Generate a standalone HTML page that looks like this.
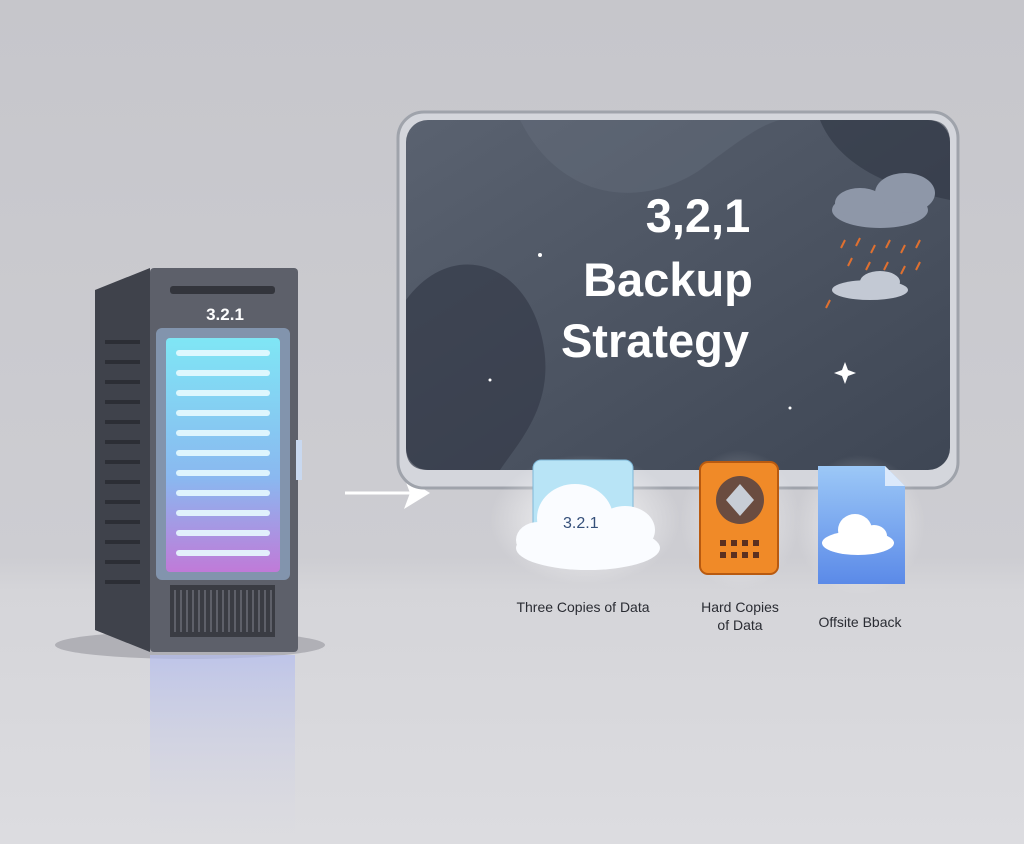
<!DOCTYPE html>
<html><head><meta charset="utf-8"><style>
html,body{margin:0;padding:0;}
body{width:1024px;height:844px;overflow:hidden;background:#c8c8cd;font-family:"Liberation Sans",sans-serif;position:relative;}
</style></head><body>
<svg width="1024" height="844" viewBox="0 0 1024 844" style="position:absolute;left:0;top:0">
<defs>
<linearGradient id="floor" x1="0" y1="0" x2="0" y2="1"><stop offset="0" stop-color="#c6c6cb"/><stop offset="0.66" stop-color="#cdcdd2"/><stop offset="0.7" stop-color="#d5d5d9"/><stop offset="1" stop-color="#dcdce0"/></linearGradient>
<linearGradient id="glow" x1="0" y1="0" x2="0" y2="1"><stop offset="0" stop-color="#7fe6f5"/><stop offset="0.6" stop-color="#8ab8f0"/><stop offset="1" stop-color="#c07ad8"/></linearGradient>
<linearGradient id="scr" x1="0" y1="0" x2="1" y2="1"><stop offset="0" stop-color="#5a6270"/><stop offset="1" stop-color="#3e4654"/></linearGradient>
<linearGradient id="refl" x1="0" y1="0" x2="0" y2="1"><stop offset="0" stop-color="#b4bdee" stop-opacity="0.7"/><stop offset="1" stop-color="#d8d8e4" stop-opacity="0"/></linearGradient>
<radialGradient id="halo"><stop offset="0" stop-color="#ffffff" stop-opacity="0.9"/><stop offset="1" stop-color="#ffffff" stop-opacity="0"/></radialGradient>
<linearGradient id="doc" x1="0" y1="0" x2="0" y2="1"><stop offset="0" stop-color="#9cc8f7"/><stop offset="1" stop-color="#5b8ae8"/></linearGradient>
</defs>
<rect width="1024" height="844" fill="url(#floor)"/>
<ellipse cx="190" cy="645" rx="135" ry="14" fill="#b0b0b6"/>
<rect x="150" y="655" width="145" height="189" fill="url(#refl)"/>
<polygon points="95,290 150,268 150,652 95,630" fill="#3f424b"/>
<g fill="#2c2e35"><rect x="105" y="340" width="35" height="4"/><rect x="105" y="360" width="35" height="4"/><rect x="105" y="380" width="35" height="4"/><rect x="105" y="400" width="35" height="4"/><rect x="105" y="420" width="35" height="4"/><rect x="105" y="440" width="35" height="4"/><rect x="105" y="460" width="35" height="4"/><rect x="105" y="480" width="35" height="4"/><rect x="105" y="500" width="35" height="4"/><rect x="105" y="520" width="35" height="4"/><rect x="105" y="540" width="35" height="4"/><rect x="105" y="560" width="35" height="4"/><rect x="105" y="580" width="35" height="4"/></g>
<rect x="150" y="268" width="148" height="384" rx="4" fill="#5d606a"/>
<rect x="170" y="286" width="105" height="8" rx="3" fill="#33353c"/>
<text x="225" y="320" font-size="17" fill="#fff" text-anchor="middle" font-weight="bold">3.2.1</text>
<rect x="156" y="328" width="134" height="252" rx="6" fill="#a8c8f0" opacity="0.5"/>
<rect x="166" y="338" width="114" height="234" rx="4" fill="url(#glow)"/>
<g fill="#e8fbff" opacity="0.9">
<rect x="176" y="350" width="94" height="6" rx="3"/><rect x="176" y="370" width="94" height="6" rx="3"/><rect x="176" y="390" width="94" height="6" rx="3"/><rect x="176" y="410" width="94" height="6" rx="3"/><rect x="176" y="430" width="94" height="6" rx="3"/><rect x="176" y="450" width="94" height="6" rx="3"/><rect x="176" y="470" width="94" height="6" rx="3"/><rect x="176" y="490" width="94" height="6" rx="3"/><rect x="176" y="510" width="94" height="6" rx="3"/><rect x="176" y="530" width="94" height="6" rx="3"/><rect x="176" y="550" width="94" height="6" rx="3"/></g>
<rect x="296" y="440" width="6" height="40" fill="#c8d8f0"/>
<rect x="170" y="585" width="105" height="52" fill="#3a3c43"/>
<g stroke="#6a6d76" stroke-width="1.5"><path d="M175 590v42M181 590v42M187 590v42M193 590v42M199 590v42M205 590v42M211 590v42M217 590v42M223 590v42M229 590v42M235 590v42M241 590v42M247 590v42M253 590v42M259 590v42M265 590v42M271 590v42"/></g>
<line x1="345" y1="493" x2="415" y2="493" stroke="#fff" stroke-width="3"/>
<polygon points="404,477 430,493 404,509 410,493" fill="#fff"/>
<rect x="398" y="112" width="560" height="376" rx="26" fill="#d4d6dc" stroke="#9fa3ab" stroke-width="3"/>
<rect x="406" y="120" width="544" height="350" rx="22" fill="url(#scr)"/>
<path d="M406 300 C450 240 520 260 540 330 C560 400 520 440 500 470 L428 470 Q406 470 406 448Z" fill="#343b48" opacity="0.7"/>
<path d="M520 120 C560 200 640 210 700 170 C740 140 760 125 780 120Z" fill="#6a7280" opacity="0.35"/>
<path d="M820 120 L928 120 Q950 120 950 142 L950 200 C900 190 840 170 820 120Z" fill="#2f3542" opacity="0.6"/>
<g fill="#fff" font-weight="bold" text-anchor="middle">
<text x="698" y="232" font-size="47">3,2,1</text>
<text x="668" y="296" font-size="47">Backup</text>
<text x="655" y="357" font-size="47">Strategy</text>
</g>
<g fill="#8e97a8"><ellipse cx="880" cy="210" rx="48" ry="18"/><ellipse cx="905" cy="193" rx="30" ry="20"/><ellipse cx="860" cy="203" rx="25" ry="15"/></g>
<g fill="#c3c9d4"><ellipse cx="870" cy="290" rx="38" ry="10"/><ellipse cx="880" cy="282" rx="20" ry="11"/></g>
<g stroke="#e07030" stroke-width="2"><path d="M845 240l-4 8M860 238l-4 8M875 245l-4 8M890 240l-4 8M905 245l-4 8M920 240l-4 8M852 258l-4 8M870 262l-4 8M888 262l-4 8M905 266l-4 8M830 300l-4 8M920 262l-4 8"/></g>
<g fill="#fff"><path d="M845 362l3 8 8 3-8 3-3 8-3-8-8-3 8-3z"/><circle cx="540" cy="255" r="2"/><circle cx="490" cy="380" r="1.5"/><circle cx="790" cy="408" r="1.5"/></g>
<ellipse cx="585" cy="520" rx="95" ry="65" fill="url(#halo)"/>
<rect x="533" y="460" width="100" height="75" rx="8" fill="#b8e4f6" stroke="#7fb8d8"/>
<g fill="#fafcff"><ellipse cx="588" cy="548" rx="72" ry="22"/><ellipse cx="575" cy="518" rx="38" ry="34"/><ellipse cx="625" cy="530" rx="30" ry="24"/><ellipse cx="538" cy="540" rx="22" ry="18"/></g>
<text x="563" y="528" font-size="16" fill="#35507a">3.2.1</text>
<ellipse cx="740" cy="520" rx="60" ry="70" fill="url(#halo)" opacity="0.6"/>
<rect x="700" y="462" width="78" height="112" rx="8" fill="#f08a28" stroke="#b85a10" stroke-width="2"/>
<circle cx="740" cy="500" r="24" fill="#6a4c40"/><polygon points="740,484 754,500 740,516 726,500" fill="#c7cdd6"/>
<g fill="#5a3020"><rect x="720" y="540" width="6" height="6"/><rect x="731" y="540" width="6" height="6"/><rect x="742" y="540" width="6" height="6"/><rect x="753" y="540" width="6" height="6"/><rect x="720" y="552" width="6" height="6"/><rect x="731" y="552" width="6" height="6"/><rect x="742" y="552" width="6" height="6"/><rect x="753" y="552" width="6" height="6"/></g>
<ellipse cx="860" cy="525" rx="65" ry="70" fill="url(#halo)" opacity="0.7"/>
<path d="M818 466 L885 466 L905 486 L905 584 L818 584 Z" fill="url(#doc)"/>
<path d="M885 466 L885 486 L905 486Z" fill="#dbe9fb"/>
<g fill="#fff"><ellipse cx="858" cy="543" rx="36" ry="12"/><ellipse cx="855" cy="530" rx="17" ry="16"/><ellipse cx="874" cy="536" rx="13" ry="11"/></g>
<g fill="#2a2c33" font-size="14" text-anchor="middle">
<text x="583" y="612">Three Copies of Data</text>
<text x="740" y="612">Hard Copies</text>
<text x="740" y="630">of Data</text>
<text x="860" y="627">Offsite Bback</text>
</g>
</svg>
</body></html>
